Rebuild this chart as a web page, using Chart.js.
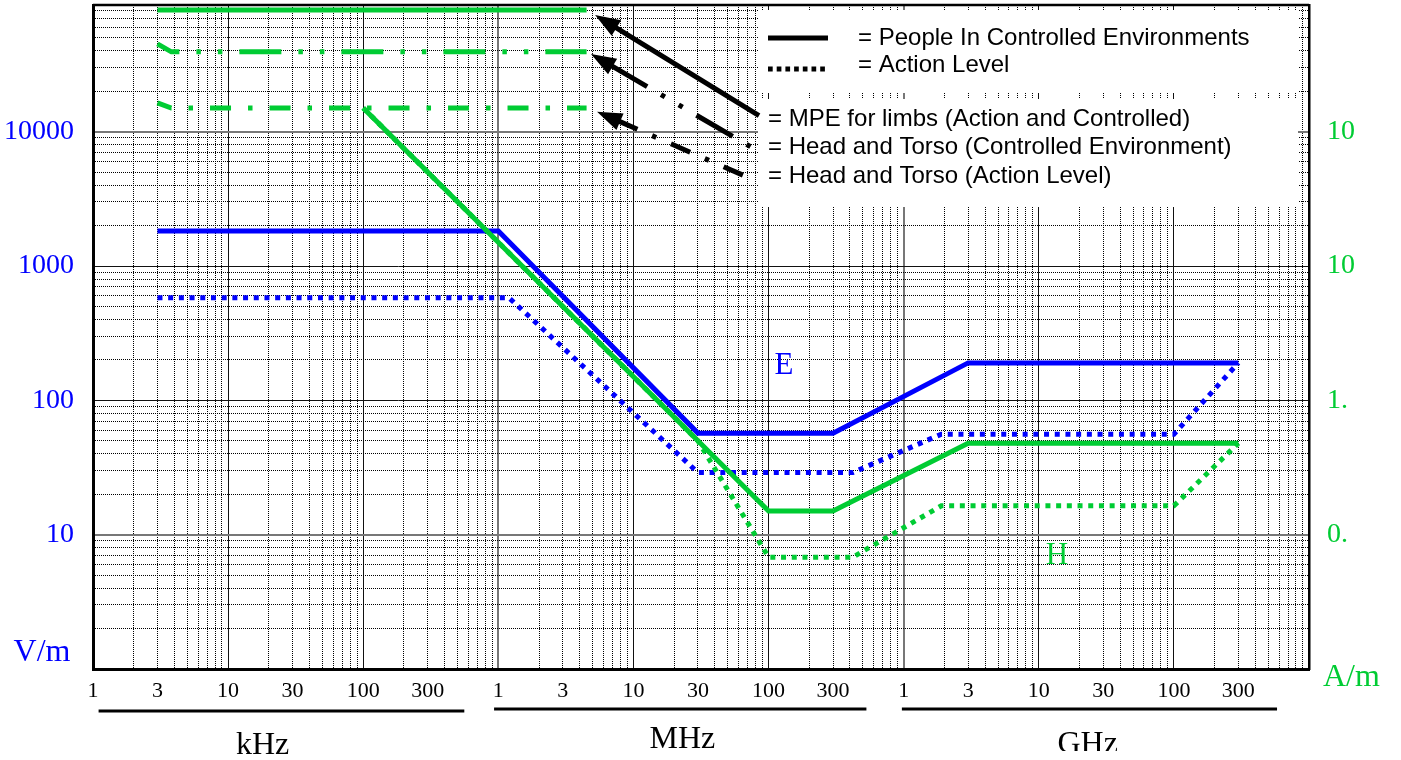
<!DOCTYPE html>
<html>
<head>
<meta charset="utf-8">
<script src="https://cdn.jsdelivr.net/npm/chart.js@4.4.0/dist/chart.umd.min.js"></script>
<style>
  html, body { margin: 0; padding: 0; background: #fff; }
  #wrap { width: 1401px; height: 760px; position: relative; }
</style>
</head>
<body>
<div id="wrap"><canvas id="chart"></canvas></div>
<script>
const BLUE = '#0000ff', GREEN = '#00cc33';

// frequency in Hz; E in V/m; H in A/m x 100 so it reads on the V/m scale
const eControlled = [[3e3, 1820], [1e6, 1820], [3e7, 57], [3e8, 57], [3e9, 190], [3e11, 190]];
const eAction = [[3e3, 580], [1.2e6, 580], [3e7, 29], [4.2e8, 29], [1.9e9, 56], [1e11, 56], [3e11, 190]];
const hControlled = [[1e5, 15000], [1e8, 15], [3e8, 15], [3e9, 48], [3e11, 48]];
const hAction = [[1e5, 15000], [3e7, 50], [1e8, 6.8], [4.2e8, 6.8], [1.9e9, 16.4], [1e11, 16.4], [3e11, 48]];
const limbs = [[3e3, 80500], [4.5e6, 80500]];
const torsoControlled = [[3e3, 45000], [3.8e3, 39300], [4.5e6, 39300]];
const torsoAction = [[3e3, 16400], [3.8e3, 15000], [4.5e6, 15000]];

const xRange = [1e3, 1e12];
const yRange = [1, 87700];
const xTickLabels = ['1', '3', '10', '30', '100', '300'];
const yTickLabels = [10, 100, 1000, 10000];
const rightTickValues = [0.1, 1, 10, 100];
const rightTickLabels = ['0.', '1.', '10', '10'];
// unit name, line from, line to, label centre (Hz)
const units = [['kHz', 1.1e3, 5.6e5, 1.8e4], ['MHz', 0.93e6, 5.3e8, 2.3e7], ['GHz', 0.97e9, 5.8e11, 2.3e10]];
const legendStyles = ['= People In Controlled Environments', '= Action Level'];
const legendLimits = ['= MPE for limbs (Action and Controlled)', '= Head and Torso (Controlled Environment)', '= Head and Torso (Action Level)'];
// arrows: tip [Hz, value], tail [Hz, value]
const arrows = [[5.2e6, 73960, 8.5e7, 13150], [4.85e6, 37940, 7.55e7, 7610], [5.38e6, 14070, 6.59e7, 4710]];
// curve labels: text, Hz, value
const curveLabels = [['E', 1.3e8, 182], ['H', 1.36e10, 7.0]];

function expOf(v) { return Math.floor(Math.log10(v) + 1e-9); }
function mantOf(v) { return Math.round(v / Math.pow(10, expOf(v))); }

function logTicks(lo, hi) {
  const out = [];
  for (let e = expOf(lo); e <= expOf(hi); e++) {
    for (let m = 1; m <= 9; m++) {
      const v = m * Math.pow(10, e);
      if (v >= lo * 0.999 && v <= hi * 1.001) out.push({value: v});
    }
  }
  return out;
}

function xLabel(v) {
  const e = expOf(v), m = mantOf(v);
  if (e >= 12 || (m !== 1 && m !== 3)) return '';
  return xTickLabels[(e % 3) * 2 + (m === 3 ? 1 : 0)];
}

function zeroPad(s) { s.paddingLeft = 0; s.paddingRight = 0; s.paddingTop = 0; s.paddingBottom = 0; }

function series(points, color, dash, offset) {
  return {
    data: points.map(p => ({x: p[0], y: p[1]})),
    borderColor: color,
    borderWidth: 5,
    borderDash: dash || [],
    borderDashOffset: offset || 0,
    borderCapStyle: 'butt',
    borderJoinStyle: 'miter',
    pointRadius: 0,
    fill: false,
    tension: 0
  };
}

const dotted = [5, 5.7];

const decor = {
  id: 'decor',
  beforeDatasetsDraw(chart) {
    const ctx = chart.ctx;
    ctx.save();
    ctx.fillStyle = '#fff';
    ctx.fillRect(758, 10, 540, 83);
    ctx.fillRect(758, 99, 540, 108);
    ctx.restore();
  },
  afterDraw(chart) {
    const {ctx, chartArea: a, scales} = chart;
    const xs = scales.x, ys = scales.y;
    ctx.save();

    // top frame line
    ctx.strokeStyle = '#000';
    ctx.lineWidth = 2.5;
    ctx.beginPath();
    ctx.moveTo(a.left, a.top);
    ctx.lineTo(a.right, a.top);
    ctx.stroke();

    // legend samples and text
    ctx.lineCap = 'butt';
    ctx.lineWidth = 5;
    ctx.beginPath(); ctx.moveTo(768, 38); ctx.lineTo(828, 38); ctx.stroke();
    ctx.setLineDash([4.7, 4]);
    ctx.beginPath(); ctx.moveTo(768, 69); ctx.lineTo(828, 69); ctx.stroke();
    ctx.setLineDash([]);
    ctx.fillStyle = '#000';
    ctx.font = '24px "Liberation Sans", Arial, sans-serif';
    ctx.textBaseline = 'middle';
    ctx.textAlign = 'left';
    [38, 65].forEach((y, i) => ctx.fillText(legendStyles[i], 858, y));
    [119, 147, 176].forEach((y, i) => ctx.fillText(legendLimits[i], 768, y));

    // arrows
    const dashes = [[], [42, 16, 4.5, 16, 4.5, 16], [21, 16, 4.5, 16]];
    arrows.forEach((ar, i) => {
      const tx = xs.getPixelForValue(ar[0]), ty = ys.getPixelForValue(ar[1]);
      const sx = xs.getPixelForValue(ar[2]), sy = ys.getPixelForValue(ar[3]);
      const len = Math.hypot(sx - tx, sy - ty);
      const ux = (sx - tx) / len, uy = (sy - ty) / len;
      const head = 25, half = 9;
      const bx = tx + ux * head, by = ty + uy * head;
      ctx.setLineDash(dashes[i]);
      ctx.lineWidth = 5;
      ctx.beginPath();
      ctx.moveTo(bx - ux * 2, by - uy * 2);
      ctx.lineTo(sx, sy);
      ctx.stroke();
      ctx.setLineDash([]);
      ctx.beginPath();
      ctx.moveTo(tx, ty);
      ctx.lineTo(bx - uy * half, by + ux * half);
      ctx.lineTo(bx + uy * half, by - ux * half);
      ctx.closePath();
      ctx.fill();
    });

    // curve letters
    ctx.font = '31px "Liberation Serif", "Times New Roman", serif';
    ctx.textAlign = 'center';
    curveLabels.forEach((c, i) => {
      ctx.fillStyle = i === 0 ? BLUE : GREEN;
      ctx.fillText(c[0], xs.getPixelForValue(c[1]), ys.getPixelForValue(c[2]));
    });

    // axis unit labels
    ctx.font = '32px "Liberation Serif", "Times New Roman", serif';
    ctx.fillStyle = BLUE;
    ctx.fillText('V/m', 42, 653);
    ctx.fillStyle = GREEN;
    ctx.textAlign = 'left';
    ctx.fillText('A/m', 1323, 678);

    // frequency group lines and names
    ctx.strokeStyle = '#000';
    ctx.lineWidth = 3;
    const base = [754, 748, 753];
    ctx.fillStyle = '#000';
    ctx.font = '32px "Liberation Serif", "Times New Roman", serif';
    ctx.textAlign = 'center';
    ctx.textBaseline = 'alphabetic';
    units.forEach((u, i) => {
      const y = i === 0 ? 711 : 709;
      ctx.beginPath();
      ctx.moveTo(xs.getPixelForValue(u[1]), y);
      ctx.lineTo(xs.getPixelForValue(u[2]), y);
      ctx.stroke();
      ctx.save();
      if (i === 2) { ctx.beginPath(); ctx.rect(0, 690, chart.width, 61); ctx.clip(); }
      ctx.fillText(u[0], xs.getPixelForValue(u[3]), base[i]);
      ctx.restore();
    });

    ctx.restore();
  }
};

Chart.defaults.font.family = '"Liberation Serif", "Times New Roman", serif';

new Chart(document.getElementById('chart'), {
  type: 'line',
  data: {
    datasets: [
      series(hControlled, GREEN),
      series(hAction, GREEN, dotted),
      series(limbs, GREEN),
      series(torsoControlled, GREEN, [42, 17, 4.5, 17, 4.5, 17], 18),
      series(torsoAction, GREEN, [21, 17, 4.5, 17], 6),
      series(eControlled, BLUE),
      series(eAction, BLUE, dotted)
    ]
  },
  options: {
    responsive: true,
    maintainAspectRatio: false,
    animation: false,
    layout: { padding: { top: 5, left: 0, right: 0, bottom: 0 } },
    plugins: { legend: { display: false }, tooltip: { enabled: false } },
    scales: {
      x: {
        type: 'logarithmic',
        min: xRange[0],
        max: xRange[1],
        afterBuildTicks: s => { s.ticks = logTicks(xRange[0], xRange[1]); },
        afterFit: s => { s.height = 91; zeroPad(s); },
        ticks: {
          autoSkip: false, maxRotation: 0, minRotation: 0, padding: 9,
          color: '#000', font: { size: 22 },
          callback: v => xLabel(v)
        },
        grid: {
          drawTicks: false,
          color: c => {
            if (!c.tick) return '#000';
            if (mantOf(c.tick.value) !== 1) return '#000';
            return expOf(c.tick.value) % 3 === 0 ? '#777' : '#111';
          },
          lineWidth: c => (c.tick && mantOf(c.tick.value) === 1 && expOf(c.tick.value) % 3 === 0) ? 2 : 1
        },
        border: {
          color: '#000', width: 3,
          dash: c => (c.tick && mantOf(c.tick.value) !== 1) ? [1, 1] : []
        }
      },
      y: {
        type: 'logarithmic',
        position: 'left',
        min: yRange[0],
        max: yRange[1],
        afterBuildTicks: s => { s.ticks = logTicks(yRange[0], yRange[1]); },
        afterFit: s => { s.width = 93; zeroPad(s); },
        ticks: {
          autoSkip: false, padding: 19, color: BLUE, font: { size: 28 },
          callback: v => yTickLabels.includes(v) ? String(v) : ''
        },
        grid: {
          drawTicks: false,
          color: c => {
            if (!c.tick || mantOf(c.tick.value) !== 1) return '#000';
            const e = expOf(c.tick.value);
            return (e === 1 || e === 4) ? '#777' : '#111';
          },
          lineWidth: c => {
            if (!c.tick || mantOf(c.tick.value) !== 1) return 1;
            const e = expOf(c.tick.value);
            return (e === 1 || e === 4) ? 2 : 1;
          }
        },
        border: {
          color: '#000', width: 3,
          dash: c => (c.tick && mantOf(c.tick.value) !== 1) ? [1, 1] : []
        }
      },
      y1: {
        type: 'logarithmic',
        position: 'right',
        min: yRange[0] / 100,
        max: yRange[1] / 100,
        afterBuildTicks: s => { s.ticks = rightTickValues.map(v => ({value: v})); },
        afterFit: s => { s.width = 92; zeroPad(s); },
        ticks: {
          autoSkip: false, padding: 18, color: GREEN, font: { size: 28 },
          callback: (v, i) => rightTickLabels[i]
        },
        grid: { display: false, drawTicks: false },
        border: { color: '#000', width: 2.5 }
      }
    }
  },
  plugins: [decor]
});
</script>
</body>
</html>
